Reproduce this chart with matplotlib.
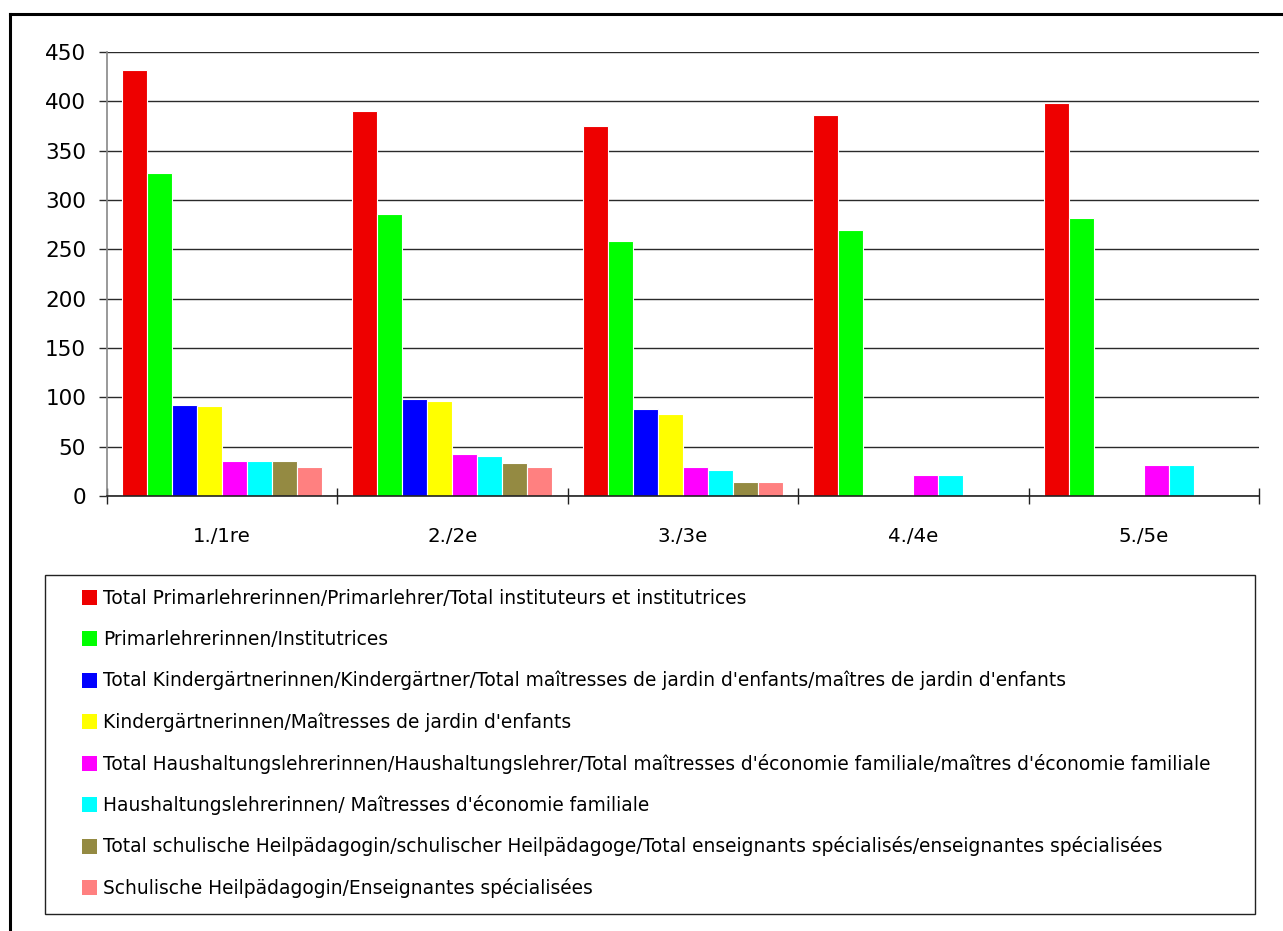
import numpy as np
import matplotlib
matplotlib.use("Agg")
import matplotlib.pyplot as plt
from matplotlib.patches import Rectangle
from matplotlib.lines import Line2D

# Years of study
categories = ["1./1re", "2./2e", "3./3e", "4./4e", "5./5e"]

series_labels = [
    "Total Primarlehrerinnen/Primarlehrer/Total instituteurs et institutrices",
    "Primarlehrerinnen/Institutrices",
    "Total Kindergärtnerinnen/Kindergärtner/Total maîtresses de jardin d'enfants/maîtres de jardin d'enfants",
    "Kindergärtnerinnen/Maîtresses de jardin d'enfants",
    "Total Haushaltungslehrerinnen/Haushaltungslehrer/Total maîtresses d'économie familiale/maîtres d'économie familiale",
    "Haushaltungslehrerinnen/ Maîtresses d'économie familiale",
    "Total schulische Heilpädagogin/schulischer Heilpädagoge/Total enseignants spécialisés/enseignantes spécialisées",
    "Schulische Heilpädagogin/Enseignantes spécialisées",
]

nan = np.nan
total_primar = [432, 390, 375, 386, 398]
primar_f = [327, 286, 258, 270, 282]
total_kinder = [92, 98, 88, nan, nan]
kinder_f = [91, 96, 83, nan, nan]
total_haus = [35, 43, 29, 21, 31]
haus_f = [35, 41, 26, 21, 31]
total_heil = [35, 33, 14, nan, nan]
heil_f = [29, 29, 14, nan, nan]

series_values = [total_primar, primar_f, total_kinder, kinder_f,
                 total_haus, haus_f, total_heil, heil_f]

series_colors = ["#EE0000", "#00FF00", "#0000FF", "#FFFF00",
                 "#FF00FF", "#00FFFF", "#948A42", "#FF8080"]

yticks = [0, 50, 100, 150, 200, 250, 300, 350, 400, 450]

W, H = 1283, 931
fig = plt.figure(figsize=(W / 100, H / 100), dpi=100)
fig.patch.set_facecolor("white")

def fx(px):
    return px / W

def fy(py):
    return 1 - py / H

# plot area
ax_left, ax_right, ax_top, ax_bottom = 107, 1259, 52, 496
ax = fig.add_axes([fx(ax_left), fy(ax_bottom),
                   fx(ax_right - ax_left), (ax_bottom - ax_top) / H])

n_series = len(series_values)
x = np.arange(len(categories))
slot = 0.1085
start = -0.5 + 0.0651
for i, (vals, col) in enumerate(zip(series_values, series_colors)):
    offs = start + slot * (i + 0.5)
    ax.bar(x + offs, np.array(vals, dtype=float), width=slot, color=col,
           edgecolor="white", linewidth=0.8, zorder=3)

ax.set_xlim(-0.5, len(categories) - 0.5)
ax.set_ylim(0, 450)
ax.set_yticks(yticks)
ax.set_yticklabels([str(v) for v in yticks], fontsize=15.5)
ax.yaxis.grid(True, color="#2a2a2a", linewidth=1.0)
ax.set_axisbelow(True)

ax.set_xticks(x)
ax.set_xticklabels(categories, fontsize=14.2)
ax.tick_params(axis="x", which="major", length=0, pad=22)
ax.set_xticks(np.arange(len(categories) + 1) - 0.5, minor=True)
ax.tick_params(axis="x", which="minor", direction="inout", length=11,
               width=1.0, color="#222222")
ax.tick_params(axis="y", which="major", direction="out", length=6,
               width=1.0, color="#2a2a2a", pad=9)

for s in ["top", "right"]:
    ax.spines[s].set_visible(False)
ax.spines["left"].set_color("#888888")
ax.spines["left"].set_linewidth(1.2)
ax.spines["bottom"].set_color("#222222")
ax.spines["bottom"].set_linewidth(1.2)
ax.spines["bottom"].set_zorder(4)

# legend box
lg_l, lg_r, lg_t, lg_b = 45, 1255, 575, 914
fig.add_artist(Rectangle((fx(lg_l), fy(lg_b)), fx(lg_r - lg_l), (lg_b - lg_t) / H,
                         transform=fig.transFigure, facecolor="white",
                         edgecolor="#222222", linewidth=1.0))
first_c, step = 597, 41.5
msize = 15
for i, (lab, col) in enumerate(zip(series_labels, series_colors)):
    cy = first_c + step * i
    fig.add_artist(Rectangle((fx(82), fy(cy + msize / 2)), fx(msize), msize / H,
                             transform=fig.transFigure, facecolor=col,
                             edgecolor="none"))
    fig.text(fx(103), fy(cy + 6.5), lab, fontsize=13.4, ha="left",
             va="baseline", color="black")

# outer chart frame
fig.add_artist(Line2D([fx(10), fx(10)], [fy(14), 0], transform=fig.transFigure,
                      color="black", linewidth=2.2))
fig.add_artist(Line2D([fx(10), 1], [fy(14), fy(14)], transform=fig.transFigure,
                      color="black", linewidth=2.2))

fig.savefig("out.png", dpi=100)
